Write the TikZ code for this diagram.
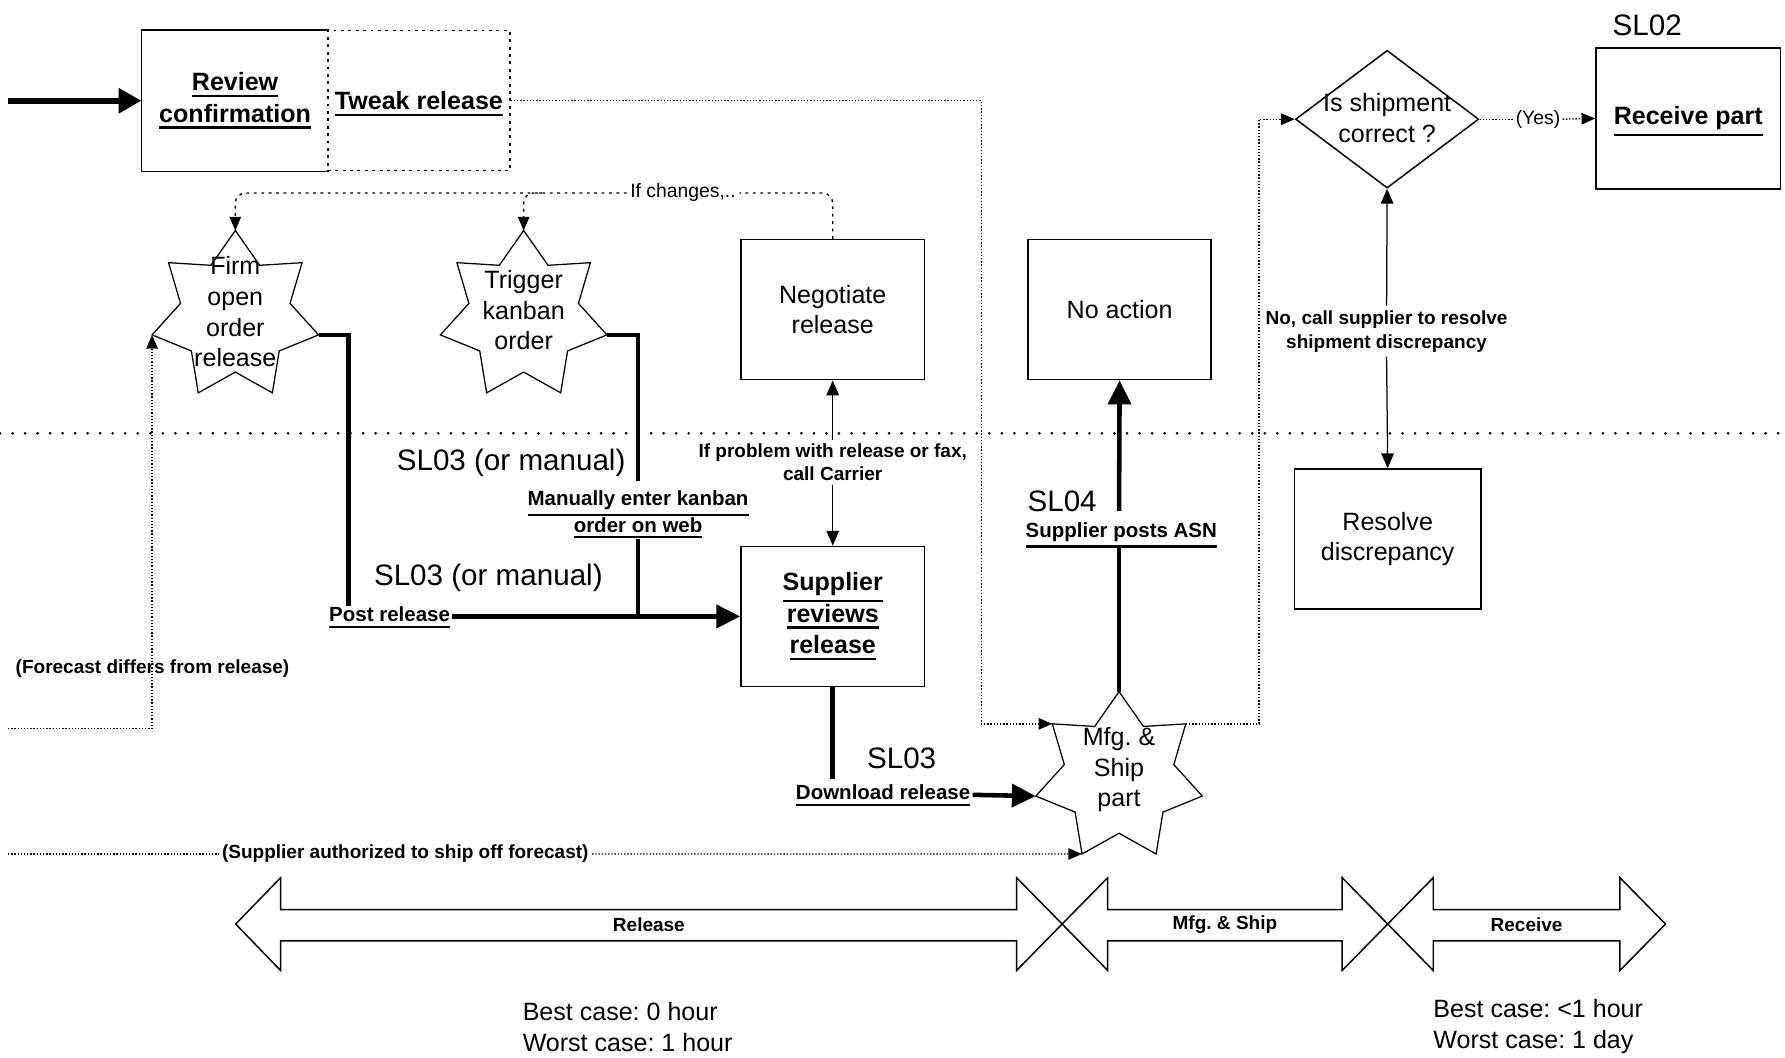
\documentclass[tikz,border=0pt]{standalone}
\usepackage{fontspec}
\setmainfont{Liberation Sans}
\usetikzlibrary{arrows.meta,shapes.geometric,calc}
\frenchspacing
\newsavebox\myulbox
\newcommand\myul[1]{\leavevmode\sbox\myulbox{#1}\rlap{\rule[\dimexpr-\dp\myulbox-5.5pt\relax]{\wd\myulbox}{2.2pt}}\usebox\myulbox}
\newcommand\myuls[1]{\leavevmode\sbox\myulbox{#1}\rlap{\smash{\rule[\dimexpr-\dp\myulbox-5.5pt\relax]{\wd\myulbox}{2.2pt}}}\usebox\myulbox}
\newcommand\fbig{\fontsize{22}{27}\selectfont}
\newcommand\fbigb{\fontsize{22}{27.5}\selectfont\bfseries}
\newcommand\fsl{\fontsize{26}{30}\selectfont}
\newcommand\fsmb{\fontsize{18}{21}\selectfont\bfseries}
\newcommand\fsmc{\fontsize{16.7}{21}\selectfont\bfseries}
\newcommand\fsm{\fontsize{17}{21}\selectfont}
\tikzset{
  box/.style={draw, line width=1.4pt, minimum width=161pt, minimum height=123pt, inner sep=0pt, align=center, font=\fbig},
  boxln/.style={line width=1.4pt},
  starshape/.style={star, star points=7, star point ratio=1.52, minimum size=150pt, inner sep=0pt, draw, line width=1.1pt},
  thickln/.style={line width=4pt},
  thickarr/.style={line width=4pt, -{Triangle[length=21pt,width=20pt]}},
  inarr/.style={line width=5pt, -{Triangle[length=20pt,width=21pt]}},
  thinarr/.style={line width=1.1pt, -{Triangle[length=13pt,width=11pt]}},
  dotln/.style={line width=1.2pt, dash pattern=on 1.2pt off 1.6pt},
  dotarr/.style={dotln, -{Triangle[length=12pt,width=10pt]}},
  dashln/.style={line width=1.2pt, dash pattern=on 2.5pt off 4pt},
  dasharr/.style={dashln, -{Triangle[length=12pt,width=10pt]}},
  sepln/.style={line width=2.6pt, line cap=round, dash pattern=on 0pt off 11pt},
  blk/.style={draw, line width=1.3pt, line join=miter},
  lbl/.style={inner sep=0pt, align=center}
}
\begin{document}
\begin{tikzpicture}[x=1pt,y=-1pt]
\fill[white] (0,0) rectangle (1568,929);
\useasboundingbox (0,0) rectangle (1568,929);

% separator
\coordinate (sepL) at (0,380.6);
\coordinate (sepR) at (1568,380.6);
\draw[sepln] (sepL) -- (sepR);

% boxes
\node[box, draw=none, font=\fbigb, minimum width=163pt] (rev) at (206.5,88.5) {\myul{Review}\\\myul{confirmation}};
\draw[boxln] (rev.north east) -- (rev.north west) -- (rev.south west) -- (rev.south east);
\node[box, font=\fbigb, dashln, minimum width=160pt] (tweak) at (368,88.5) {\myuls{Tweak release}};
\node[box] (neg) at (731.5,272) {Negotiate\\release};
\node[box] (noact) at (983.5,272) {No action};
\node[box, font=\fbigb] (sup) at (731.5,541.5) {\myul{Supplier}\\\myul{reviews}\\\myul{release}};
\node[box, minimum width=164pt] (res) at (1219,473.5) {Resolve\\discrepancy};
\node[box, font=\fbigb, minimum width=162pt, minimum height=124pt] (rec) at (1483,104) {\myuls{Receive part}};
\node[draw, diamond, line width=1.3pt, minimum width=161pt, minimum height=121pt, inner sep=0pt] (dia) at (1218.5,104.7) {};
\node[lbl, font=\fbig] (diat) at (1218.5,103.5) {Is shipment\\correct ?};

% stars
\node[starshape] (firm) at (206.7,277.5) {};
\node[lbl, font=\fbig] (firmt) at (206.7,274) {Firm\\open\\order\\release};
\node[starshape] (trig) at (460,277.5) {};
\node[lbl, font=\fbig] (trigt) at (460,272.5) {Trigger\\kanban\\order};
\node[starshape] (mfg) at (983,682.6) {};
\node[lbl, font=\fbig] (mfgt) at (983,676) {Mfg. \&\\Ship\\part};

\coordinate (firmT) at ($(firm)+(-90:75)$);
\coordinate (firmR) at ($(firm)+(12.86:75)$);
\coordinate (firmL) at ($(firm)+(167.14:75)$);
\coordinate (trigT) at ($(trig)+(-90:75)$);
\coordinate (trigR) at ($(trig)+(12.86:75)$);
\coordinate (mfgT) at ($(mfg)+(-90:75)$);
\coordinate (mfgUR) at ($(mfg)+(-38.57:75)$);
\coordinate (mfgUL) at ($(mfg)+(-141.43:75)$);
\coordinate (mfgL) at ($(mfg)+(167.14:75)$);
\coordinate (mfgBL) at ($(mfg)+(115.71:75)$);

% labels
\node[lbl, font=\fsl] (sl02) at (1447,22) {SL02};
\node[lbl, font=\fsl] (sl03a) at (449,406.5) {SL03 (or manual)};
\node[lbl, font=\fsl] (sl03b) at (429,507.7) {SL03 (or manual)};
\node[lbl, font=\fsl] (sl03c) at (792,666) {SL03};
\node[lbl, font=\fsl] (sl04) at (933,440) {SL04};
\node[lbl, font=\fsmb, anchor=base west] (post) at (289,546) {\myul{Post release}};
\node[lbl, font=\fsmb] (man) at (560.5,452) {\myul{Manually enter kanban}\\\myul{order on web}};
\node[lbl, font=\fsmb, anchor=base west] (dl) at (699,702.7) {\myul{Download release}};
\node[lbl, font=\fsmb, anchor=base] (asn) at (985,472) {\myul{Supplier posts ASN}};
\node[lbl, font=\fsmc] (fcst) at (134,587) {(Forecast differs from release)};
\node[lbl, font=\fsmc, inner sep=3pt] (prob) at (731.5,406) {If problem with release or fax,\\call Carrier};
\node[lbl, font=\fsmc, inner sep=4pt] (nocall) at (1218,291) {No, call supplier to resolve\\shipment discrepancy};
\node[lbl, font=\fsm, inner sep=3pt] (chg) at (600,169.5) {If changes,..};
\node[lbl, font=\fsm, inner sep=2pt] (yes) at (1351,104.7) {(Yes)};
\node[lbl, font=\fsmc, inner sep=3pt] (auth) at (356,750.2) {(Supplier authorized to ship off forecast)};

% input arrow
\coordinate (in) at (7,88.5);
\draw[inarr] (in) -- (rev.west);

% dotted connectors
\coordinate (tw1) at ($(mfgUL)+(-62.4,0)$);
\draw[dotarr] (tweak.east) -| (tw1) -- (mfgUL);
\draw[dotarr] (mfgUR) -- ++(64.4,0) |- (dia.west);
\draw[dotln] (dia.east) -- (yes.west);
\draw[dotarr] (yes.east) -- (rec.west);
\coordinate (fcin) at (7,640);
\draw[dotarr] (fcin) -| (firmL);
\coordinate (auin) at (7,750.2);
\draw[dotln] (auin) -- (auth.west);
\draw[dotarr] (auth.east) -- (mfgBL);
\draw[dashln, rounded corners=9pt] (neg.north) |- (chg.east);
\draw[dasharr, rounded corners=9pt] (chg.west) -| (firmT);
\draw[dasharr, rounded corners=9pt] ($(trigT |- chg)+(16,0)$) -| (trigT);

% thick connectors
\draw[thickln] (firmR) -| ($(post.north west)+(17,0)$);
\draw[thickarr] ($(post.base east)+(2,-4.5)$) -- (sup.west);
\draw[thickln] (trigR) -| ($(man.north)+(0,-8)$);
\draw[thickln] (man.south) -- (man.south |- sup.west);
\draw[thickln] (sup.south) -- ($(sup.south |- dl.north)+(0,-5)$);
\draw[thickarr] ($(dl.base east)+(2,-4.5)$) -- (mfgL);
\draw[thickln] (mfgT) -- (mfgT |- asn.south);
\draw[thickarr] ($(mfgT |- asn.north)+(0,-10)$) -- (noact.south);

% thin double arrows (split by their labels)
\draw[thinarr] (prob.north) -- (neg.south);
\draw[thinarr] (prob.south) -- (sup.north);
\draw[thinarr] (nocall.north) -- (dia.south);
\draw[thinarr] (nocall.south) -- (res.north);

% bottom phase arrows
\draw[blk] (207,811.7) -- (246.5,771) -- (246.5,799) -- (893,799) -- (893,771) -- (933,811.7) -- (893,852.5) -- (893,826.5) -- (246.5,826.5) -- (246.5,852.5) -- cycle;
\draw[blk] (933,811.7) -- (973,771) -- (973,799) -- (1179,799) -- (1179,771) -- (1219,811.7) -- (1179,852.5) -- (1179,826.5) -- (973,826.5) -- (973,852.5) -- cycle;
\draw[blk] (1219,811.7) -- (1259,771) -- (1259,799) -- (1423,799) -- (1423,771) -- (1463,811.7) -- (1423,852.5) -- (1423,826.5) -- (1259,826.5) -- (1259,852.5) -- cycle;
\node[lbl, font=\fsmc] (relt) at (570,812) {Release};
\node[lbl, font=\fsmc] (mfgl) at (1076,812) {Mfg. \& Ship};
\node[lbl, font=\fsmc] (recl) at (1341,812) {Receive};

\node[lbl, font=\fbig, anchor=west, align=left] (best1) at (459,902) {Best case: 0 hour\\Worst case: 1 hour};
\node[lbl, font=\fbig, anchor=west, align=left] (best2) at (1259,902) {Best case: <1 hour\\Worst case: 1 day};
\end{tikzpicture}
\end{document}
